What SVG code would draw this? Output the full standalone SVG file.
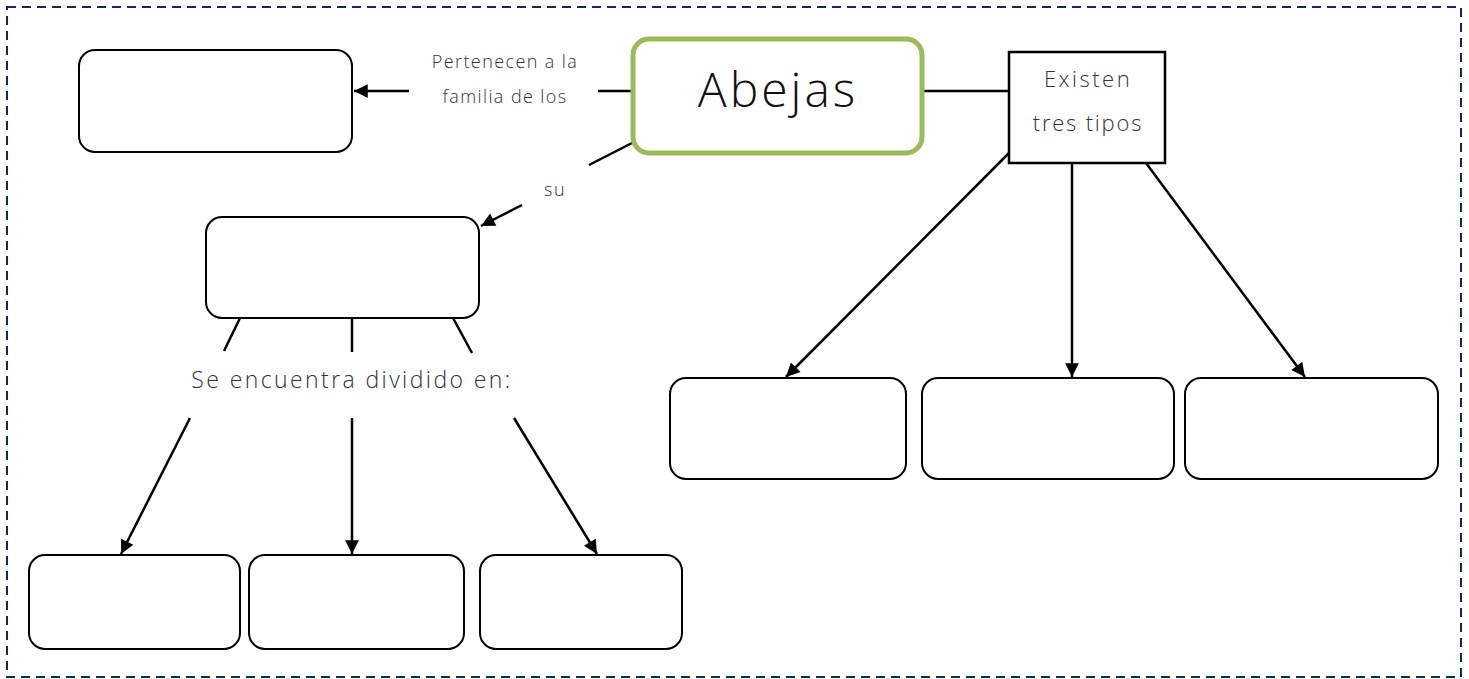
<svg xmlns="http://www.w3.org/2000/svg" width="1469" height="679" viewBox="0 0 1469 679">
<style>
.box{fill:#fff;stroke:#000;stroke-width:2}
.ln{stroke:#000;stroke-width:2.5;fill:none}
.t{font-family:"Open Sans","DejaVu Sans",sans-serif;fill:#333;text-anchor:middle;font-weight:300}
</style>
<defs>
<marker id="ah" viewBox="0 0 10 10" refX="10" refY="5" markerWidth="6" markerHeight="5.5" orient="auto" markerUnits="strokeWidth">
<path d="M0,0 L10,5 L0,10 z" fill="#000"/>
</marker>
</defs>
<rect x="0" y="0" width="1469" height="679" fill="#fff"/>
<rect x="7" y="7" width="1454" height="670" fill="none" stroke="#0E2A5C" stroke-width="2" stroke-dasharray="9,6"/>
<g id="connectors">
<line class="ln" x1="633" y1="91" x2="598" y2="91"/>
<line class="ln" x1="409" y1="91" x2="354" y2="91" marker-end="url(#ah)"/>
<line class="ln" x1="922" y1="91" x2="1009" y2="91"/>
<line class="ln" x1="634" y1="142" x2="589" y2="165"/>
<line class="ln" x1="522" y1="205" x2="481" y2="226" marker-end="url(#ah)"/>
<line class="ln" x1="1009" y1="153" x2="786" y2="377" marker-end="url(#ah)"/>
<line class="ln" x1="1072" y1="163" x2="1072" y2="377" marker-end="url(#ah)"/>
<line class="ln" x1="1146" y1="163" x2="1305" y2="377" marker-end="url(#ah)"/>
<line class="ln" x1="240" y1="318" x2="224" y2="351"/>
<line class="ln" x1="352" y1="318" x2="352" y2="352"/>
<line class="ln" x1="453" y1="318" x2="472" y2="353"/>
<line class="ln" x1="190" y1="418" x2="121" y2="554" marker-end="url(#ah)"/>
<line class="ln" x1="352" y1="418" x2="352" y2="554" marker-end="url(#ah)"/>
<line class="ln" x1="514" y1="418" x2="597" y2="554" marker-end="url(#ah)"/>
<text class="t" x="505" y="68" font-size="18" letter-spacing="1.4">Pertenecen a la</text>
<text class="t" x="505" y="103" font-size="18" letter-spacing="1.4">familia de los</text>
<text class="t" x="555" y="196" font-size="18" letter-spacing="1.4">su</text>
<text class="t" x="352" y="388" font-size="23" letter-spacing="2.4">Se encuentra dividido en:</text>
</g>
<g id="familia"><rect class="box" x="79" y="50" width="273" height="102" rx="16"/></g>
<g id="abejas"><rect x="633" y="39" width="289" height="114" rx="16" fill="#fff" stroke="#9BBB59" stroke-width="5"/>
<text class="t" x="778" y="107" font-size="48" letter-spacing="3" style="fill:#111">Abejas</text></g>
<g id="existen"><rect x="1009" y="52" width="156" height="111" fill="#fff" stroke="#000" stroke-width="2.5"/>
<text class="t" x="1088" y="87" font-size="22" letter-spacing="2.5">Existen</text>
<text class="t" x="1088" y="131" font-size="22" letter-spacing="1.8">tres tipos</text></g>
<g id="su"><rect class="box" x="206" y="217" width="273" height="101" rx="16"/></g>
<g id="div1"><rect class="box" x="29" y="555" width="211" height="94" rx="16"/></g>
<g id="div2"><rect class="box" x="249" y="555" width="215" height="94" rx="16"/></g>
<g id="div3"><rect class="box" x="480" y="555" width="202" height="94" rx="16"/></g>
<g id="tipo1"><rect class="box" x="670" y="378" width="236" height="101" rx="16"/></g>
<g id="tipo2"><rect class="box" x="922" y="378" width="252" height="101" rx="16"/></g>
<g id="tipo3"><rect class="box" x="1185" y="378" width="253" height="101" rx="16"/></g>
</svg>
